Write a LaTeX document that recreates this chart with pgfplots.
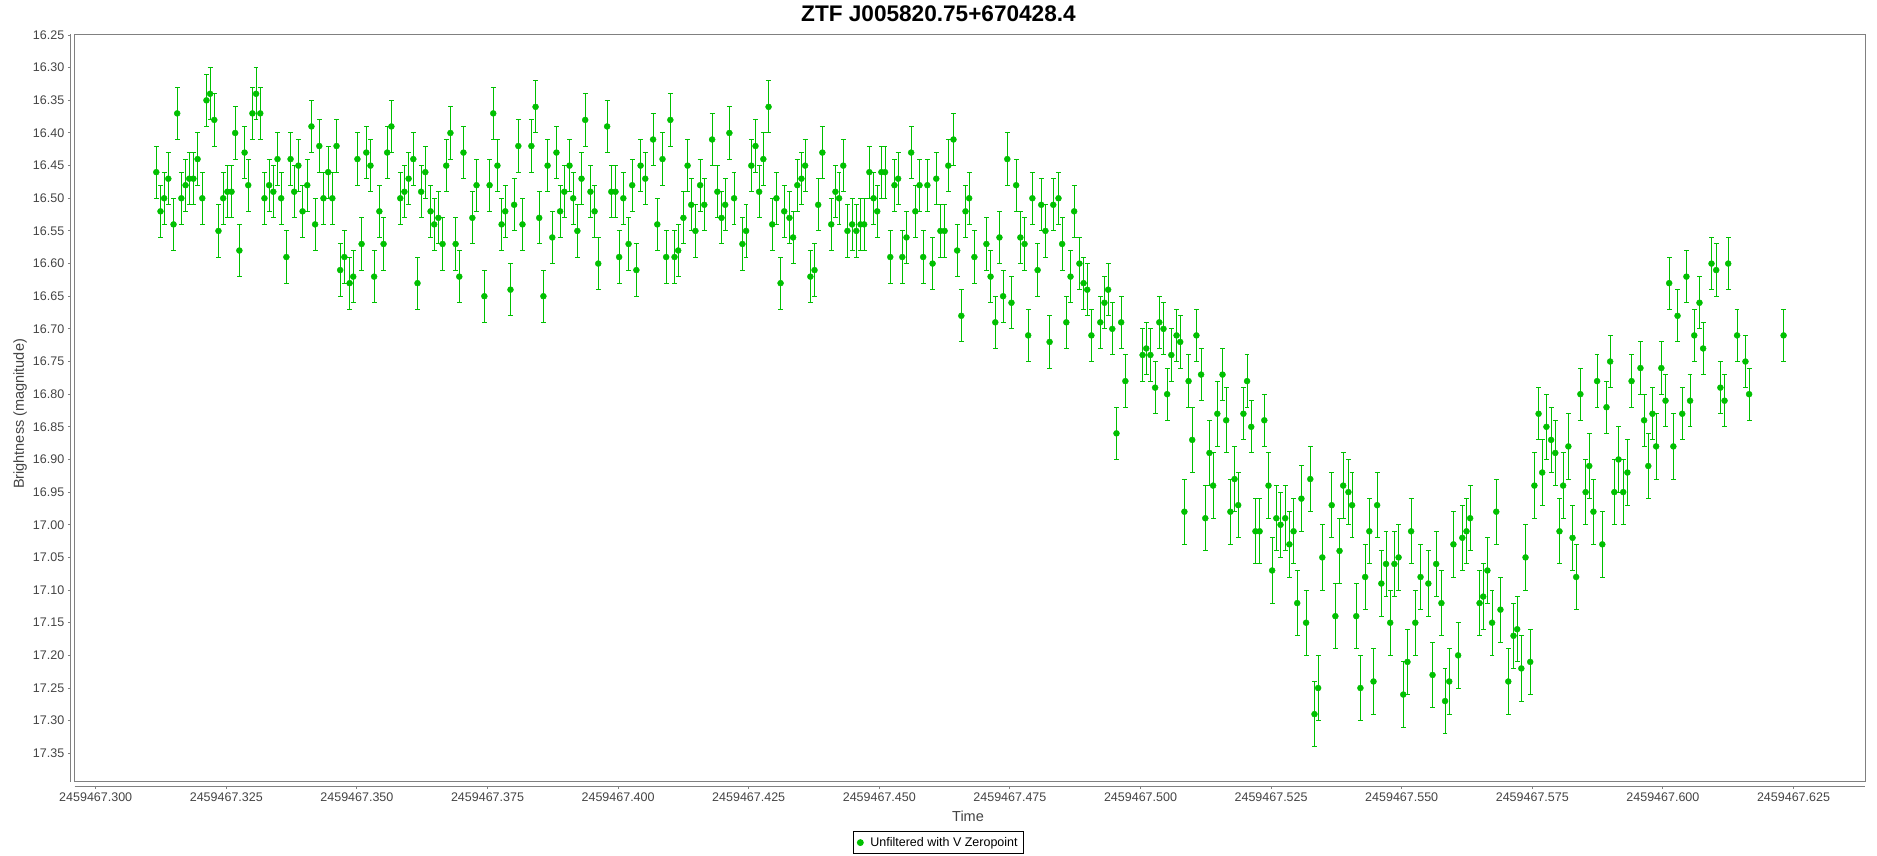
\documentclass[border=0pt]{standalone}
\usepackage{fontspec}
\setmainfont{Liberation Sans}
\usepackage{pgfplots}
\pgfplotsset{compat=1.18}
\definecolor{ztfgreen}{RGB}{0,192,0}
\definecolor{axisgray}{RGB}{128,128,128}
\definecolor{ticktext}{RGB}{68,68,68}
\begin{document}
\begin{tikzpicture}
\useasboundingbox[fill=white] (0,0) rectangle (1877pt,-856pt);
\begin{axis}[
  scale only axis, width=1790.6pt, height=747.4pt,
  at={(74.7pt,-781.7pt)}, anchor=south west,
  xmin=0.29598, xmax=0.63874, ymin=16.2489, ymax=17.3935, y dir=reverse,
  axis x line*=bottom, axis y line*=left,
  axis x line shift=4.6pt, axis y line shift=4.4pt,
  axis line style={draw=axisgray, line width=1pt, -},
  xtick={0.300,0.325,0.350,0.375,0.400,0.425,0.450,0.475,0.500,0.525,0.550,0.575,0.600,0.625},
  xticklabels={2459467.300,2459467.325,2459467.350,2459467.375,2459467.400,2459467.425,2459467.450,2459467.475,2459467.500,2459467.525,2459467.550,2459467.575,2459467.600,2459467.625},
  ytick={16.25,16.30,16.35,16.40,16.45,16.50,16.55,16.60,16.65,16.70,16.75,16.80,16.85,16.90,16.95,17.00,17.05,17.10,17.15,17.20,17.25,17.30,17.35},
  yticklabel style={/pgf/number format/.cd, fixed, fixed zerofill, precision=2, assume math mode=true},
  tick align=outside, major tick length=2.5pt,
  tick style={draw=axisgray, line width=1pt},
  ticklabel style={font=\fontsize{12.5}{14}\selectfont, text=ticktext},
  xlabel={Time}, ylabel={Brightness (magnitude)},
  label style={font=\fontsize{14.5}{16}\selectfont, text=ticktext},
  xlabel style={at={(axis description cs:0.4989,-0.0459)}, anchor=center},
  ylabel style={at={(axis description cs:-0.0305,0.492)}, anchor=center, rotate=0},
  every axis title shift=0pt,
  title={\bfseries ZTF J005820.75+670428.4},
  title style={at={(axis description cs:0.4824,1.0272)}, anchor=center, font=\fontsize{22.6}{25}\selectfont, text=black},
  legend style={at={(axis description cs:0.4824,-0.0665)}, anchor=north, draw=black, line width=0.8pt,
    font=\fontsize{12.5}{14}\selectfont, inner xsep=4pt, inner ysep=3.5pt},
  legend cell align=left,
  clip=false,
]
\addplot[only marks, mark=*, mark size=3pt, color=ztfgreen,
  error bars/.cd, y dir=both, y explicit,
  error bar style={line width=1pt, color=ztfgreen},
  error mark options={rotate=90, mark size=2.4pt, line width=1pt, color=ztfgreen},
  ] 
  table[x index=0, y index=1, y error index=2] {
0.3116 16.46 0.04
0.3124 16.52 0.04
0.3131 16.50 0.04
0.3139 16.47 0.04
0.3149 16.54 0.04
0.3156 16.37 0.04
0.3164 16.50 0.04
0.3172 16.48 0.04
0.3179 16.47 0.04
0.3187 16.47 0.04
0.3195 16.44 0.04
0.3204 16.50 0.04
0.3212 16.35 0.04
0.3219 16.34 0.04
0.3227 16.38 0.04
0.3235 16.55 0.04
0.3244 16.50 0.04
0.3252 16.49 0.04
0.3260 16.49 0.04
0.3267 16.40 0.04
0.3275 16.58 0.04
0.3285 16.43 0.04
0.3292 16.48 0.04
0.3300 16.37 0.04
0.3307 16.34 0.04
0.3315 16.37 0.04
0.3323 16.50 0.04
0.3332 16.48 0.04
0.3340 16.49 0.04
0.3348 16.44 0.04
0.3355 16.50 0.04
0.3365 16.59 0.04
0.3373 16.44 0.04
0.3380 16.49 0.04
0.3388 16.45 0.04
0.3396 16.52 0.04
0.3405 16.48 0.04
0.3413 16.39 0.04
0.3420 16.54 0.04
0.3428 16.42 0.04
0.3436 16.50 0.04
0.3445 16.46 0.04
0.3453 16.50 0.04
0.3461 16.42 0.04
0.3468 16.61 0.04
0.3476 16.59 0.04
0.3486 16.63 0.04
0.3493 16.62 0.04
0.3501 16.44 0.04
0.3509 16.57 0.04
0.3518 16.43 0.04
0.3526 16.45 0.04
0.3533 16.62 0.04
0.3543 16.52 0.04
0.3551 16.57 0.04
0.3558 16.43 0.04
0.3566 16.39 0.04
0.3583 16.50 0.04
0.3591 16.49 0.04
0.3599 16.47 0.04
0.3608 16.44 0.04
0.3616 16.63 0.04
0.3623 16.49 0.04
0.3631 16.46 0.04
0.3641 16.52 0.04
0.3648 16.54 0.04
0.3656 16.53 0.04
0.3664 16.57 0.04
0.3671 16.45 0.04
0.3679 16.40 0.04
0.3689 16.57 0.04
0.3696 16.62 0.04
0.3704 16.43 0.04
0.3721 16.53 0.04
0.3729 16.48 0.04
0.3744 16.65 0.04
0.3754 16.48 0.04
0.3761 16.37 0.04
0.3769 16.45 0.04
0.3777 16.54 0.04
0.3784 16.52 0.04
0.3794 16.64 0.04
0.3801 16.51 0.04
0.3809 16.42 0.04
0.3817 16.54 0.04
0.3834 16.42 0.04
0.3842 16.36 0.04
0.3849 16.53 0.04
0.3857 16.65 0.04
0.3865 16.45 0.04
0.3874 16.56 0.04
0.3882 16.43 0.04
0.3889 16.52 0.04
0.3897 16.49 0.04
0.3907 16.45 0.04
0.3914 16.50 0.04
0.3922 16.55 0.04
0.3930 16.47 0.04
0.3937 16.38 0.04
0.3947 16.49 0.04
0.3955 16.52 0.04
0.3962 16.60 0.04
0.3979 16.39 0.04
0.3987 16.49 0.04
0.3995 16.49 0.04
0.4002 16.59 0.04
0.4010 16.50 0.04
0.4020 16.57 0.04
0.4027 16.48 0.04
0.4035 16.61 0.04
0.4043 16.45 0.04
0.4052 16.47 0.04
0.4067 16.41 0.04
0.4075 16.54 0.04
0.4085 16.44 0.04
0.4092 16.59 0.04
0.4100 16.38 0.04
0.4108 16.59 0.04
0.4115 16.58 0.04
0.4125 16.53 0.04
0.4133 16.45 0.04
0.4140 16.51 0.04
0.4148 16.55 0.04
0.4157 16.48 0.04
0.4165 16.51 0.04
0.4180 16.41 0.04
0.4190 16.49 0.04
0.4198 16.53 0.04
0.4205 16.51 0.04
0.4213 16.40 0.04
0.4222 16.50 0.04
0.4238 16.57 0.04
0.4245 16.55 0.04
0.4255 16.45 0.04
0.4263 16.42 0.04
0.4270 16.49 0.04
0.4278 16.44 0.04
0.4288 16.36 0.04
0.4295 16.54 0.04
0.4303 16.50 0.04
0.4311 16.63 0.04
0.4318 16.52 0.04
0.4328 16.53 0.04
0.4335 16.56 0.04
0.4343 16.48 0.04
0.4351 16.47 0.04
0.4358 16.45 0.04
0.4368 16.62 0.04
0.4376 16.61 0.04
0.4383 16.51 0.04
0.4391 16.43 0.04
0.4408 16.54 0.04
0.4416 16.49 0.04
0.4423 16.50 0.04
0.4431 16.45 0.04
0.4439 16.55 0.04
0.4448 16.54 0.04
0.4456 16.55 0.04
0.4464 16.54 0.04
0.4471 16.54 0.04
0.4481 16.46 0.04
0.4489 16.50 0.04
0.4496 16.52 0.04
0.4504 16.46 0.04
0.4511 16.46 0.04
0.4521 16.59 0.04
0.4529 16.48 0.04
0.4536 16.47 0.04
0.4544 16.59 0.04
0.4552 16.56 0.04
0.4561 16.43 0.04
0.4569 16.52 0.04
0.4577 16.48 0.04
0.4584 16.59 0.04
0.4592 16.48 0.04
0.4602 16.60 0.04
0.4609 16.47 0.04
0.4617 16.55 0.04
0.4625 16.55 0.04
0.4632 16.45 0.04
0.4642 16.41 0.04
0.4649 16.58 0.04
0.4657 16.68 0.04
0.4665 16.52 0.04
0.4672 16.50 0.04
0.4682 16.59 0.04
0.4705 16.57 0.04
0.4713 16.62 0.04
0.4722 16.69 0.04
0.4730 16.56 0.04
0.4737 16.65 0.04
0.4745 16.44 0.04
0.4753 16.66 0.04
0.4762 16.48 0.04
0.4770 16.56 0.04
0.4778 16.57 0.04
0.4785 16.71 0.04
0.4793 16.50 0.04
0.4803 16.61 0.04
0.4810 16.51 0.04
0.4818 16.55 0.04
0.4826 16.72 0.04
0.4833 16.51 0.04
0.4843 16.50 0.04
0.4850 16.57 0.04
0.4858 16.69 0.04
0.4866 16.62 0.04
0.4873 16.52 0.04
0.4883 16.60 0.04
0.4891 16.63 0.04
0.4898 16.64 0.04
0.4906 16.71 0.04
0.4923 16.69 0.04
0.4931 16.66 0.04
0.4938 16.64 0.04
0.4946 16.70 0.04
0.4954 16.86 0.04
0.4963 16.69 0.04
0.4971 16.78 0.04
0.5004 16.74 0.04
0.5011 16.73 0.04
0.5019 16.74 0.04
0.5028 16.79 0.04
0.5036 16.69 0.04
0.5044 16.70 0.04
0.5051 16.80 0.04
0.5059 16.74 0.04
0.5069 16.71 0.04
0.5076 16.72 0.04
0.5084 16.98 0.05
0.5092 16.78 0.04
0.5099 16.87 0.05
0.5107 16.71 0.04
0.5116 16.77 0.04
0.5124 16.99 0.05
0.5132 16.89 0.05
0.5139 16.94 0.05
0.5147 16.83 0.05
0.5157 16.77 0.04
0.5164 16.84 0.05
0.5172 16.98 0.05
0.5180 16.93 0.05
0.5187 16.97 0.05
0.5197 16.83 0.04
0.5204 16.78 0.04
0.5212 16.85 0.04
0.5220 17.01 0.05
0.5228 17.01 0.05
0.5237 16.84 0.04
0.5245 16.94 0.05
0.5252 17.07 0.05
0.5260 16.99 0.05
0.5268 17.00 0.05
0.5277 16.99 0.05
0.5285 17.03 0.05
0.5293 17.01 0.05
0.5300 17.12 0.05
0.5308 16.96 0.05
0.5317 17.15 0.05
0.5325 16.93 0.05
0.5333 17.29 0.05
0.5340 17.25 0.05
0.5348 17.05 0.05
0.5366 16.97 0.05
0.5373 17.14 0.05
0.5381 17.04 0.05
0.5388 16.94 0.05
0.5398 16.95 0.05
0.5405 16.97 0.05
0.5413 17.14 0.05
0.5421 17.25 0.05
0.5430 17.08 0.05
0.5438 17.01 0.05
0.5446 17.24 0.05
0.5453 16.97 0.05
0.5461 17.09 0.05
0.5470 17.06 0.05
0.5478 17.15 0.05
0.5486 17.06 0.05
0.5494 17.05 0.05
0.5503 17.26 0.05
0.5511 17.21 0.05
0.5518 17.01 0.05
0.5526 17.15 0.05
0.5536 17.08 0.05
0.5551 17.09 0.05
0.5559 17.23 0.05
0.5566 17.06 0.05
0.5576 17.12 0.05
0.5583 17.27 0.05
0.5591 17.24 0.05
0.5599 17.03 0.05
0.5608 17.20 0.05
0.5616 17.02 0.05
0.5624 17.01 0.05
0.5631 16.99 0.05
0.5649 17.12 0.05
0.5656 17.11 0.05
0.5664 17.07 0.05
0.5673 17.15 0.05
0.5681 16.98 0.05
0.5689 17.13 0.05
0.5704 17.24 0.05
0.5714 17.17 0.05
0.5721 17.16 0.05
0.5729 17.22 0.05
0.5737 17.05 0.05
0.5746 17.21 0.05
0.5754 16.94 0.05
0.5762 16.83 0.04
0.5769 16.92 0.05
0.5777 16.85 0.05
0.5786 16.87 0.05
0.5794 16.89 0.05
0.5802 17.01 0.05
0.5809 16.94 0.05
0.5819 16.88 0.05
0.5827 17.02 0.05
0.5834 17.08 0.05
0.5842 16.80 0.04
0.5852 16.95 0.05
0.5859 16.91 0.05
0.5867 16.98 0.05
0.5874 16.78 0.04
0.5884 17.03 0.05
0.5892 16.82 0.04
0.5899 16.75 0.04
0.5907 16.95 0.05
0.5915 16.90 0.05
0.5924 16.95 0.05
0.5932 16.92 0.05
0.5940 16.78 0.04
0.5957 16.76 0.04
0.5964 16.84 0.04
0.5972 16.91 0.05
0.5980 16.83 0.04
0.5987 16.88 0.05
0.5997 16.76 0.04
0.6005 16.81 0.04
0.6012 16.63 0.04
0.6020 16.88 0.05
0.6028 16.68 0.04
0.6037 16.83 0.04
0.6045 16.62 0.04
0.6052 16.81 0.04
0.6060 16.71 0.04
0.6070 16.66 0.04
0.6077 16.73 0.04
0.6093 16.60 0.04
0.6102 16.61 0.04
0.6110 16.79 0.04
0.6118 16.81 0.04
0.6125 16.60 0.04
0.6142 16.71 0.04
0.6158 16.75 0.04
0.6165 16.80 0.04
0.6231 16.71 0.04
};
\addlegendentry{\hspace{5pt}Unfiltered with V Zeropoint}
\draw[axisgray, line width=1pt] (rel axis cs:0,0) rectangle (rel axis cs:1,1);
\end{axis}
\end{tikzpicture}
\end{document}
